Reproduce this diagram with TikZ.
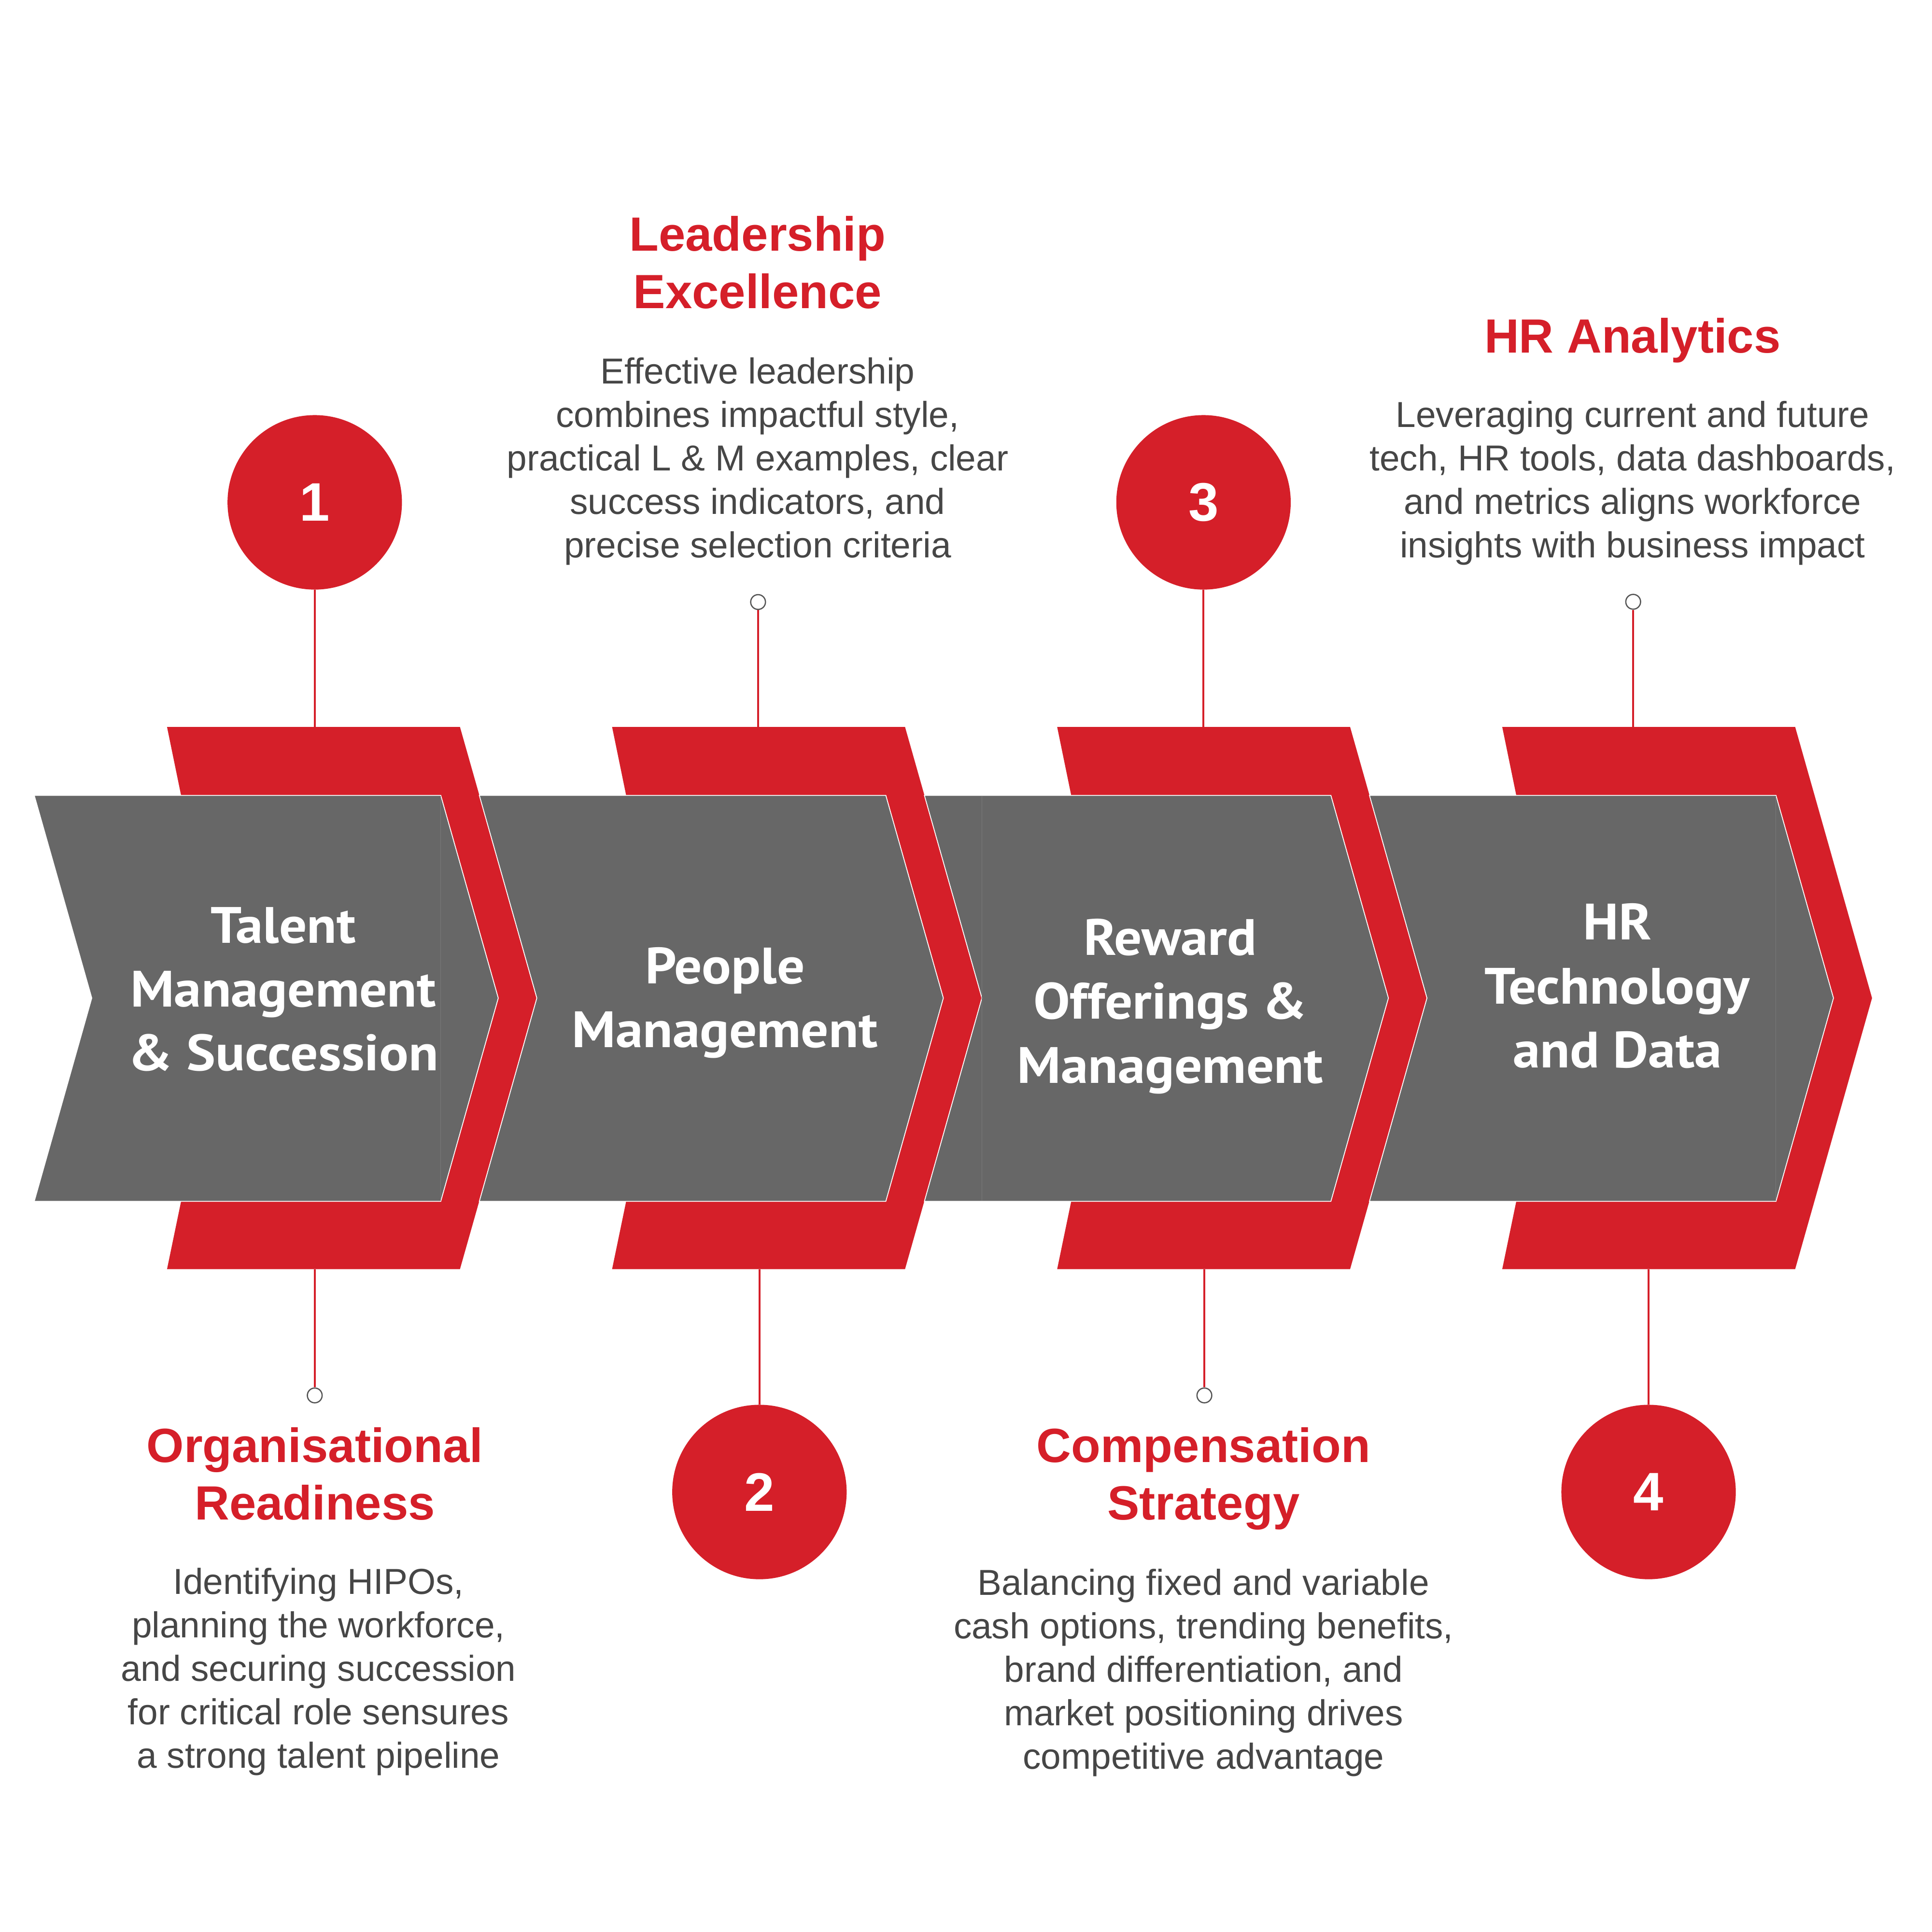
\documentclass[tikz,border=0pt]{standalone}
\usepackage{fontspec}
\setmainfont{Liberation Sans}
\newfontfamily\chevfont{PT Sans}[FakeStretch=1.07]
\definecolor{brandred}{RGB}{213,31,41}
\definecolor{chevgray}{RGB}{103,103,103}
\definecolor{bodygray}{RGB}{70,70,70}
\definecolor{dotgray}{RGB}{85,85,85}
\newcommand{\stackedtext}[1]{\begin{tabular}[t]{@{}c@{}}#1\end{tabular}}
\begin{document}
\begin{tikzpicture}[x=1pt,y=-1pt,
 redband/.style={fill=brandred},
 chevbox/.style={fill=chevgray, draw=white, line width=0.7pt, line join=miter},
 seam/.style={draw=chevgray!88!white, line width=0.5pt},
 chevtitle/.style={anchor=base, inner sep=0pt, text=white, font=\chevfont\bfseries\fontsize{41.5}{51.8}\selectfont},
 heading/.style={anchor=base, inner sep=0pt, text=brandred, font=\bfseries\fontsize{39}{46.8}\selectfont},
 desc/.style={anchor=base, inner sep=0pt, text=bodygray, font=\fontsize{29.3}{35.3}\selectfont},
 bignum/.style={circle, fill=brandred, minimum size=141.6pt, inner sep=0pt, text=white, font=\bfseries\fontsize{44}{44}\selectfont},
 dot/.style={circle, draw=dotgray, fill=white, line width=1pt, minimum size=12pt, inner sep=0pt},
 link/.style={draw=brandred, line width=1.5pt},
]
\path[use as bounding box, fill=white] (0,0) rectangle (1568,1568);

% red bands
\foreach \o in {0,361.3,722.6,1083.9}{
  \fill[redband] (135.6+\o,590) -- (373.4+\o,590) -- (435.8+\o,810) -- (373.4+\o,1030)
    -- (135.6+\o,1030) -- (147+\o,975) -- (147+\o,645.5) -- cycle;
}
% grey chevrons
\foreach \o in {0,361.3,722.6,1083.9}{
  \path[chevbox] (27.8+\o,645.5) -- (357.8+\o,645.5) -- (404.5+\o,810) -- (357.8+\o,975)
    -- (27.8+\o,975) -- (74.5+\o,810) -- cycle;
}
% faint seams
\draw[seam] (357.8,646) -- (357.8,974.5);
\draw[seam] (797.1,646) -- (797.1,974.5);
\draw[seam] (1441.7,646) -- (1441.7,974.5);

% chevron titles
\node[chevtitle] (tm) at (230,765.3) {\stackedtext{Talent\\Management\\\& Succession}};
\node[chevtitle] (pm) at (588.5,798.4) {\stackedtext{People\\Management}};
\node[chevtitle] (ro) at (950,775.3) {\stackedtext{Reward\\Offerings \&\\Management}};
\node[chevtitle] (ht) at (1313,762.8) {\stackedtext{HR\\Technology\\and Data}};

% band end points
\coordinate (t1) at (255.5,590);  \coordinate (b1) at (255.5,1030);
\coordinate (t2) at (615.4,590);  \coordinate (b2) at (616.5,1030);
\coordinate (t3) at (977,590);    \coordinate (b3) at (977.7,1030);
\coordinate (t4) at (1325.8,590); \coordinate (b4) at (1338.3,1030);

% number circles and dots
\node[bignum] (c1) at (255.5,407.7) {1};
\node[bignum] (c2) at (616.5,1210.9) {2};
\node[bignum] (c3) at (977,407.7) {3};
\node[bignum] (c4) at (1338.3,1210.9) {4};
\node[dot] (d1) at (255.5,1132.5) {};
\node[dot] (d2) at (615.4,488.6) {};
\node[dot] (d3) at (977.7,1132.5) {};
\node[dot] (d4) at (1325.8,488.4) {};

% connectors
\draw[link] (c1) -- (t1);
\draw[link] (b1) -- (d1);
\draw[link] (d2) -- (t2);
\draw[link] (b2) -- (c2);
\draw[link] (c3) -- (t3);
\draw[link] (b3) -- (d3);
\draw[link] (d4) -- (t4);
\draw[link] (b4) -- (c4);

% headings
\node[heading] (h1) at (615,203.6) {\stackedtext{Leadership\\Excellence}};
\node[heading] (h2) at (1325.3,286.3) {\stackedtext{HR Analytics}};
\node[heading] (h3) at (255.6,1186.7) {\stackedtext{Organisational\\Readiness}};
\node[heading] (h4) at (977,1186.7) {\stackedtext{Compensation\\Strategy}};

% descriptions
\node[desc] (p1) at (615,311.4) {\stackedtext{Effective leadership\\combines impactful style,\\practical L \& M examples, clear\\success indicators, and\\precise selection criteria}};
\node[desc] (p2) at (1325.3,346.7) {\stackedtext{Leveraging current and future\\tech, HR tools, data dashboards,\\and metrics aligns workforce\\insights with business impact}};
\node[desc] (p3) at (258.5,1293.6) {\stackedtext{Identifying HIPOs,\\planning the workforce,\\and securing succession\\for critical role sensures\\a strong talent pipeline}};
\node[desc] (p4) at (977,1294.6) {\stackedtext{Balancing fixed and variable\\cash options, trending benefits,\\brand differentiation, and\\market positioning drives\\competitive advantage}};
\end{tikzpicture}
\end{document}
